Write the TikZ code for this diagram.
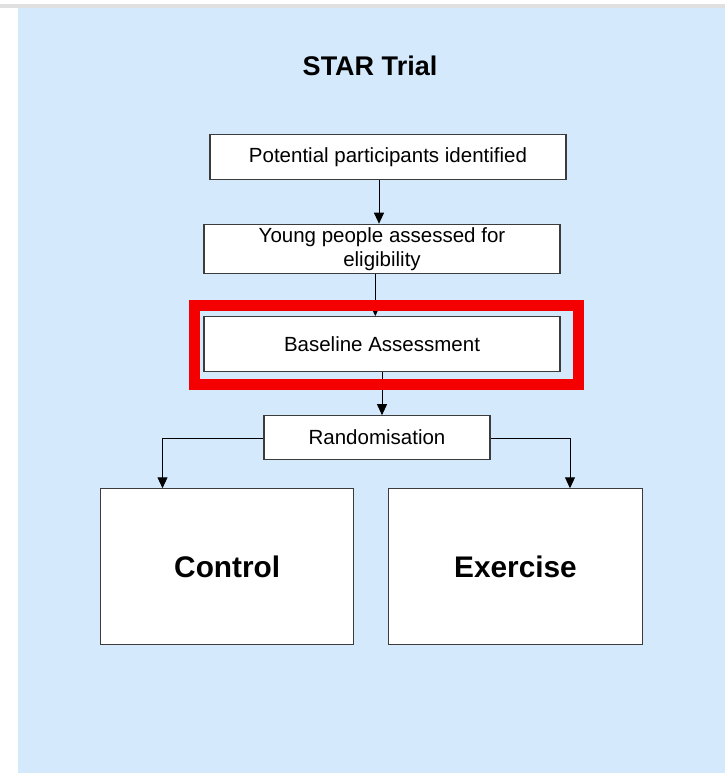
\documentclass[tikz,border=0pt]{standalone}
\usepackage{fontspec}
\setmainfont{Liberation Sans}
\usetikzlibrary{arrows.meta,positioning}
\definecolor{panelblue}{RGB}{212,233,252}
\definecolor{stripgray}{RGB}{224,224,224}
\definecolor{boxgray}{RGB}{60,60,60}
\definecolor{hired}{RGB}{245,0,0}

\begin{document}
\begin{tikzpicture}[x=1pt,y=-1pt,
  box/.style={draw=boxgray, line width=1.1pt, fill=white, align=center,
              inner sep=0pt, font=\fontsize{20.5}{24}\selectfont},
  armbox/.style={box, minimum width=253pt, minimum height=156pt,
              font=\bfseries\fontsize{29.8}{34}\selectfont},
  arr/.style={-{Triangle[length=11pt,width=10pt]}, line width=1pt},
  hilite/.style={draw=hired, line width=11pt}
]
% page, grey strip and the blue panel
\useasboundingbox (0,0) rectangle (725,773);
\fill[white] (0,0) rectangle (725,773);
\fill[stripgray] (0,4) rectangle (725,8);
\fill[panelblue] (18,8) rectangle (725,773);

\node[font=\bfseries\fontsize{27}{32}\selectfont] (title) at (370,66) {STAR Trial};

\node[box, minimum width=356pt, minimum height=45pt] (found) at (388,156.7)
  {Potential participants identified};
\node[box, minimum width=356pt, minimum height=49.5pt] (elig) at (382,249)
  {Young people assessed for\\eligibility};
\node[box, minimum width=356pt, minimum height=55pt] (base) at (382,344.2)
  {Baseline Assessment};
\node[box, minimum width=226pt, minimum height=43.6pt] (rand) at (377,437.5)
  {Randomisation};
\node[armbox] (ctrl) at (227.2,566.8) {Control};
\node[armbox, minimum width=254pt] (exer) at (515.5,566.8) {Exercise};

\draw[arr] ([xshift=-9pt]found.south) -- ([xshift=-9pt]found.south |- elig.north);
\draw[arr] ([xshift=-6.7pt]elig.south) -- ([xshift=-6.7pt]elig.south |- base.north);
\draw[arr] (base.south) -- (base.south |- rand.north);
\draw[arr] ([yshift=-1pt]rand.west) -| ([xshift=-64.7pt]ctrl.north);
\draw[arr] ([yshift=-1pt]rand.east) -| ([xshift=54.5pt]exer.north);

% red highlight round the baseline step
\draw[hilite] ([xshift=-9pt,yshift=10.7pt]base.north west)
  rectangle ([xshift=18pt,yshift=-11.8pt]base.south east);
\end{tikzpicture}
\end{document}
